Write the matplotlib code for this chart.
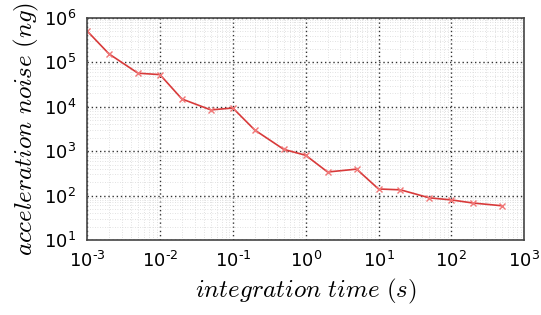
import numpy as np
import matplotlib
matplotlib.use('Agg')
import matplotlib.pyplot as plt

# integration time (s) and acceleration noise (ng)
int_time = [1e-3, 2e-3, 5e-3, 1e-2, 2e-2, 5e-2, 0.1, 0.2, 0.5, 1,
            2, 5, 10, 20, 50, 100, 200, 500]
noise = [5.1e5, 1.55e5, 5.7e4, 5.3e4, 1.5e4, 8.5e3, 9.4e3, 3.0e3, 1.1e3, 810,
         340, 395, 141, 135, 89, 80, 68, 59]

x_exp = [-3, -2, -1, 0, 1, 2, 3]
y_exp = [1, 2, 3, 4, 5, 6]


def tick_label(k):
    # hyphen-like short minus as in the original
    e = str(k).replace('-', '\u2010')
    return r'$\mathdefault{10^{%s}}$' % e


def main():
    fig = plt.figure(figsize=(5.41, 3.15), dpi=100)
    ax = fig.add_axes([0.161, 0.238, 0.808, 0.705])

    ax.loglog(int_time, noise, color='#d83a3a', lw=1.2, marker='x',
              ms=4, mec='#f07878', mew=1.0)

    ax.set_xlim(1e-3, 1e3)
    ax.set_ylim(1e1, 1e6)
    ax.set_xticks([10.0**k for k in x_exp])
    ax.set_xticklabels([tick_label(k) for k in x_exp])
    ax.set_yticks([10.0**k for k in y_exp])
    ax.set_yticklabels([tick_label(k) for k in y_exp])

    ax.grid(True, which='major', color='#333333', ls=(0, (1, 2)), lw=1.0)
    ax.grid(True, which='minor', color='#d8d8d8', ls=(0, (1, 2)), lw=0.6)
    ax.tick_params(which='both', direction='in', length=0, labelsize=13,
                   pad=8)
    for s in ax.spines.values():
        s.set_color('#444444')
        s.set_linewidth(1.2)

    ax.set_xlabel(r'$integration\ time\ (s)$', fontsize=18,
                  math_fontfamily='cm', labelpad=4)
    ax.set_ylabel(r'$acceleration\ noise\ (ng)$', fontsize=18,
                  math_fontfamily='cm', labelpad=2)

    fig.savefig('out.png', dpi=100)


if __name__ == "__main__":
    main()
